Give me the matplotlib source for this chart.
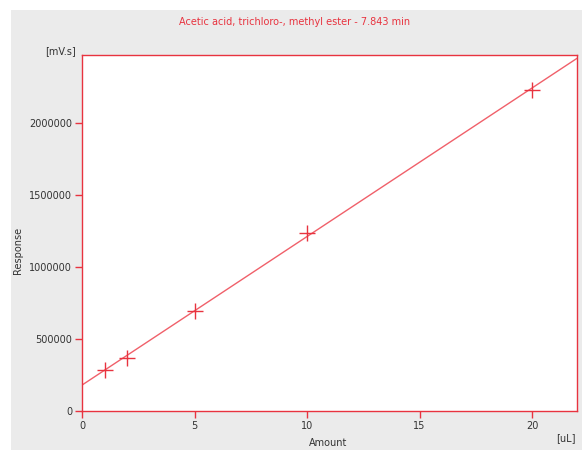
import numpy as np
import matplotlib
matplotlib.use('Agg')
import matplotlib.pyplot as plt
from matplotlib.patches import Rectangle

# calibration points
amount = [1, 2, 5, 10, 20]
response = [285000, 370000, 695000, 1235000, 2230000]

x_ticks = [0, 5, 10, 15, 20]
y_ticks = [0, 500000, 1000000, 1500000, 2000000]

red = '#e8333f'
plt.rcParams.update({'font.size': 7, 'font.family': ['DejaVu Sans']})

fig = plt.figure(figsize=(5.82, 4.5), dpi=100, facecolor='white')
fig.patches.append(Rectangle((11 / 582, 0), 1, 1 - 10 / 450, transform=fig.transFigure,
                             facecolor='#ebebeb', edgecolor='none', zorder=-10))

ax = fig.add_axes([82 / 582, 1 - 411 / 450, (577 - 82) / 582, (411 - 55) / 450])
ax.set_facecolor('white')

# least squares line over the whole x range
slope, intercept = np.polyfit(amount, response, 1)
xs = np.array([0, 22])
ax.plot(xs, slope * xs + intercept, color='#f0606a', lw=1)
ax.plot(amount, response, linestyle='none', marker='+', markersize=11,
        markeredgewidth=1, color=red)

ax.set_xlim(0, 22)
ax.set_ylim(0, 2470000)
ax.set_xticks(x_ticks)
ax.set_yticks(y_ticks)
ax.set_yticklabels([str(v) for v in y_ticks])
for s in ax.spines.values():
    s.set_color(red)
    s.set_linewidth(1)
ax.tick_params(direction='out', length=5, width=1, color=red, labelcolor='#333333', pad=2)

fig.text(295 / 582, 1 - 22 / 450, 'Acetic acid, trichloro-, methyl ester - 7.843 min',
         color=red, ha='center', va='center')
fig.text(60 / 582, 1 - 51 / 450, '[mV.s]', color='#333333', ha='center', va='center')
fig.text(18 / 582, 1 - 250 / 450, 'Response', color='#333333', ha='center', va='center',
         rotation=90)
fig.text(328 / 582, 1 - 443 / 450, 'Amount', color='#333333', ha='center', va='center')
fig.text(566 / 582, 1 - 438 / 450, '[uL]', color='#333333', ha='center', va='center')

fig.savefig('out.png', dpi=100, facecolor=fig.get_facecolor())
